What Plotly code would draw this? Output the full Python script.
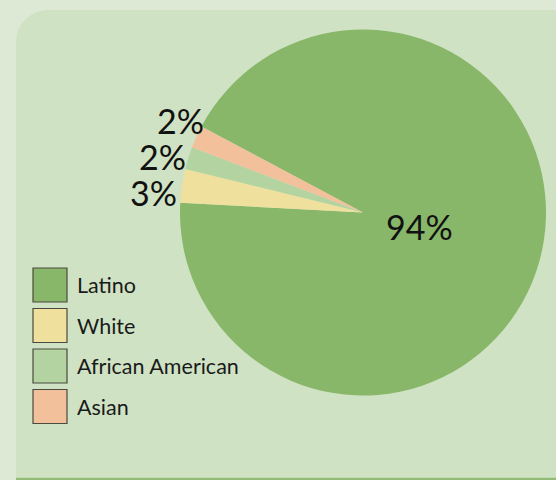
import math
import plotly.graph_objects as go

labels = ["Latino", "White", "African American", "Asian"]
values = [94, 3, 2, 2]
colors = ["#88b76a", "#efe19d", "#b3d4a0", "#f2c09a"]

W, H = 556, 480
FONT = "Lato"
LABEL_SIZE = 34
ROTATION = 298

# pie box in pixels (top-left origin)
pie_x0, pie_x1 = 180, 546
pie_top, pie_bot = 29.5, 395.5

fig = go.Figure()
fig.add_trace(go.Pie(
    labels=labels,
    values=values,
    sort=False,
    direction="clockwise",
    rotation=ROTATION,
    marker=dict(colors=colors, line=dict(width=0)),
    textinfo="none",
    hoverinfo="label+value",
    showlegend=False,
    domain=dict(x=[pie_x0 / W, pie_x1 / W], y=[1 - pie_bot / H, 1 - pie_top / H]),
))

# ---- percentage labels derived from the pie geometry ----
total = sum(values)
cx = (pie_x0 + pie_x1) / 2
cy = (pie_top + pie_bot) / 2
r = min(pie_x1 - pie_x0, pie_bot - pie_top) / 2
PAD, MIN_GAP, Y_NUDGE = 3, 36, 6.5

def px_to_paper(x, y):
    return x / W, 1 - y / H

annotations = []
outside = []
acc = 0.0
for i, v in enumerate(values):
    a = math.radians(ROTATION + 360 * (acc + v / 2) / total)
    acc += v
    txt = f"{v}%"
    if v / total > 0.5:
        # big slice: inside, along the mid-angle
        rf = 0.32
        x, y = cx + rf * r * math.sin(a), cy - rf * r * math.cos(a)
        xp, yp = px_to_paper(x, y - 1.5)
        annotations.append(dict(xref="paper", yref="paper", x=xp, y=yp,
                                xanchor="center", yanchor="middle", showarrow=False,
                                text=txt, font=dict(family=FONT, size=LABEL_SIZE, color="#111111")))
    else:
        outside.append([cy - r * math.cos(a), txt])

# stack the small-slice labels upward so they do not overlap
outside.sort(key=lambda t: -t[0])
prev = None
for item in outside:
    y = item[0]
    if prev is not None and y > prev - MIN_GAP:
        y = prev - MIN_GAP
    prev = y
    x = cx - math.sqrt(max(r * r - (y - cy) ** 2, 0)) - PAD
    xp, yp = px_to_paper(x, y + Y_NUDGE)
    annotations.append(dict(xref="paper", yref="paper", x=xp, y=yp,
                            xanchor="right", yanchor="middle", showarrow=False,
                            text=item[1], font=dict(family=FONT, size=LABEL_SIZE, color="#111111")))

# ---- panel background with rounded top-left corner ----
px0, py0 = 16 / W, 1 - 10 / H
rx, ry = 32 / W, 32 / H
pbot = 2.3 / H
panel_path = (
    f"M {px0},{pbot} L {px0},{py0 - ry} "
    f"C {px0},{py0 - ry * 0.45} {px0 + rx * 0.45},{py0} {px0 + rx},{py0} "
    f"L 1,{py0} L 1,{pbot} Z"
)
shapes = [
    dict(type="path", xref="paper", yref="paper", path=panel_path,
         fillcolor="#cfe2c3", line=dict(width=0), layer="below"),
    dict(type="rect", xref="paper", yref="paper", x0=px0, x1=1, y0=0, y1=pbot,
         fillcolor="#93bb78", line=dict(width=0), layer="below"),
]

# ---- legend ----
sw, gap = 34, 40.5
lx0, ly0 = 33, 268
for i, (lab, col) in enumerate(zip(labels, colors)):
    top = ly0 + i * gap
    shapes.append(dict(type="rect", xref="paper", yref="paper",
                       x0=lx0 / W, x1=(lx0 + sw) / W,
                       y0=1 - (top + sw) / H, y1=1 - top / H,
                       fillcolor=col, line=dict(color="#4a4a40", width=1.2)))
    annotations.append(dict(xref="paper", yref="paper", x=(lx0 + sw + 8) / W,
                            y=1 - (top + sw / 2) / H, xanchor="left", yanchor="middle",
                            text=lab, showarrow=False,
                            font=dict(family=FONT, size=21.5, color="#1a1a1a")))

fig.update_layout(
    width=W, height=H,
    margin=dict(l=0, r=0, t=0, b=0),
    paper_bgcolor="#dde9d4",
    plot_bgcolor="#dde9d4",
    shapes=shapes,
    annotations=annotations,
)

fig.write_html("out.html",
               config={"displayModeBar": False},
               post_script="document.body.style.margin='0';document.body.style.background='#dde9d4';")
